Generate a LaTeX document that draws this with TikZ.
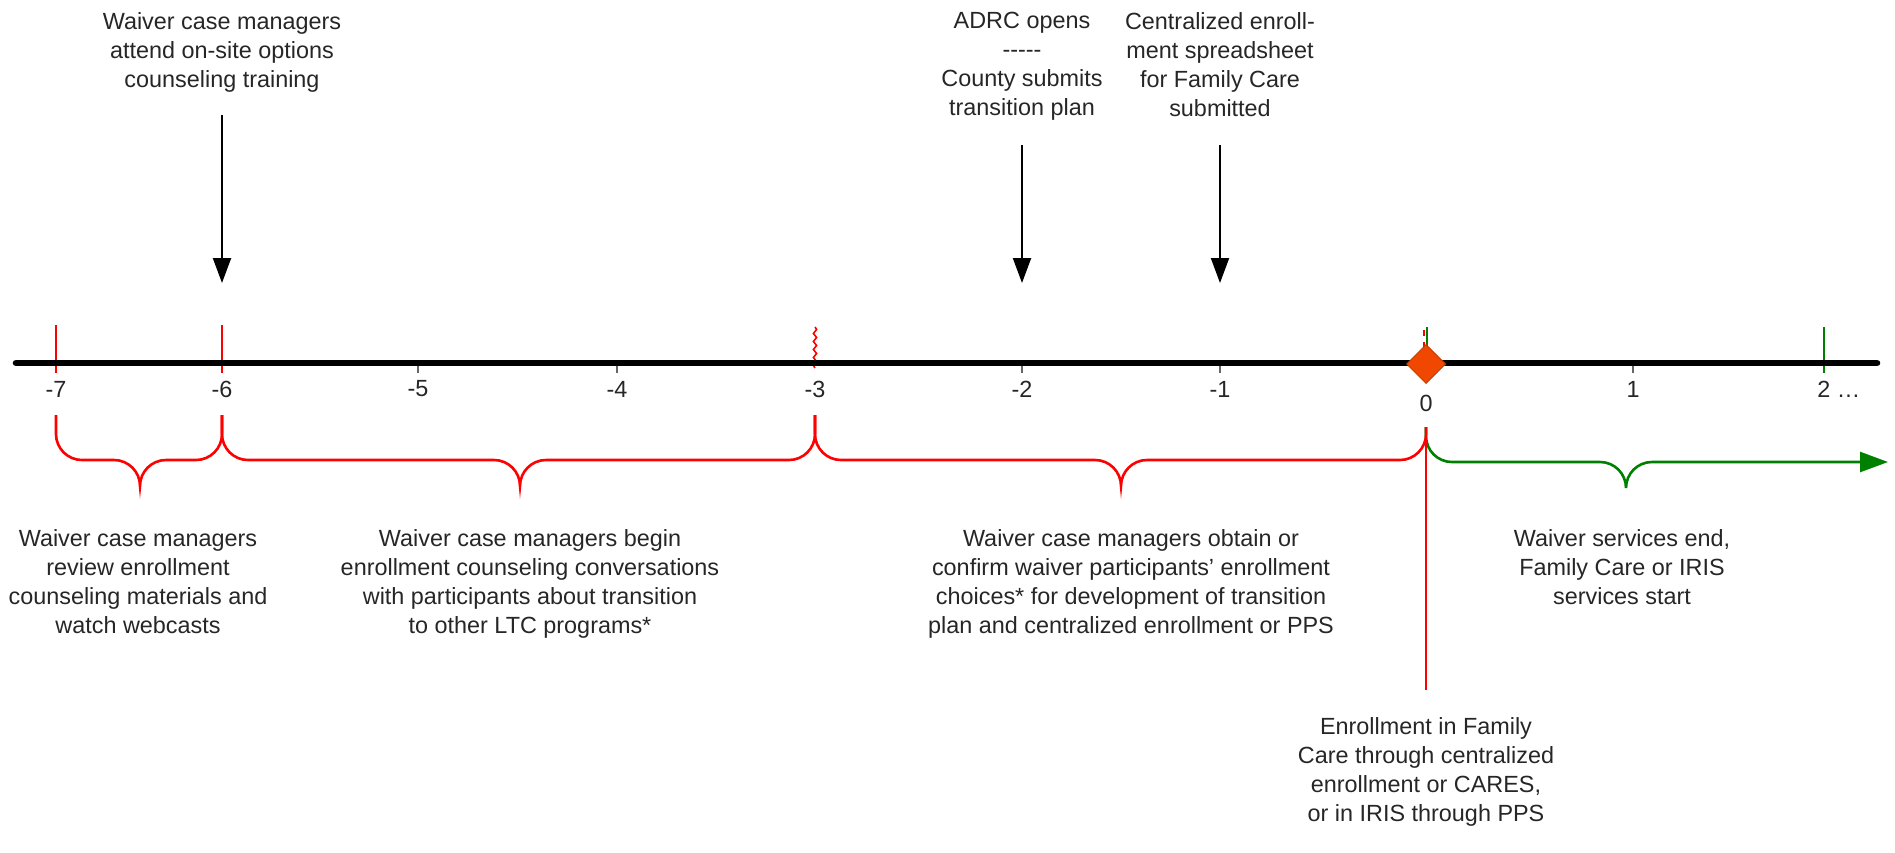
\documentclass[tikz,border=0pt]{standalone}
\usepackage{fontspec}
\setmainfont{Liberation Sans}
\usetikzlibrary{arrows.meta,decorations.pathmorphing,shapes.geometric}
\definecolor{tred}{RGB}{255,0,0}
\definecolor{tgreen}{RGB}{0,128,0}
\definecolor{dmd}{RGB}{240,72,0}
\definecolor{dmdedge}{RGB}{200,60,0}
\definecolor{txt}{RGB}{38,38,38}
\newcommand\tbrace[8]{%
  \draw[#1] (#2,#3) -- (#2,#7-#8) .. controls (#2,#7-0.448*#8) and (#2+0.448*#8,#7) .. (#2+#8,#7)
    -- (#6-#8,#7) .. controls (#6-0.448*#8,#7) and (#6,#7+0.448*#8) .. (#6,#7+#8)
    .. controls (#6,#7+0.448*#8) and (#6+0.448*#8,#7) .. (#6+#8,#7)
    -- (#4-#8,#7) .. controls (#4-0.448*#8,#7) and (#4,#7-0.448*#8) .. (#4,#7-#8) -- (#4,#5);}
\begin{document}
\begin{tikzpicture}[x=0.5pt,y=-0.5pt,
  lbl/.style={font=\fontsize{11.7}{14.5}\selectfont, text=txt, align=center, inner sep=0pt},
  ticklbl/.style={font=\fontsize{11.7}{14}\selectfont, text=txt, inner sep=0pt},
  dnarrow/.style={draw=black, line width=1pt, -{Triangle[length=12.5pt,width=9pt]}},
  redbrace/.style={draw=tred, line width=1.3pt},
  greenbrace/.style={draw=tgreen, line width=1.3pt},
  redtick/.style={draw=tred, line width=1.1pt},
  greentick/.style={draw=tgreen, line width=1.1pt},
  graytick/.style={draw=black!60, line width=1pt}]
\useasboundingbox (0,0) rectangle (1895,852);

% braces
\tbrace{redbrace}{56}{415}{222}{415}{140}{460}{26}
\tbrace{redbrace}{222}{415}{815}{415}{520}{460}{26}
\tbrace{redbrace}{815}{415}{1426}{427}{1121}{460}{26}
\coordinate (gstart) at (1426,427);
\coordinate (gend) at (1888,462);
\draw[greenbrace, -{Triangle[length=14pt,width=10pt]}] (gstart) -- (1426,436)
  .. controls (1426,450.4) and (1437.6,462) .. (1452,462) -- (1600,462)
  .. controls (1614.4,462) and (1626,473.6) .. (1626,488)
  .. controls (1626,473.6) and (1637.6,462) .. (1652,462) -- (gend);

% red line from 0 down
\coordinate (zl1) at (1426,427);
\coordinate (zl2) at (1426,690);
\draw[draw=tred, line width=0.6pt] (zl1) -- (zl2);

% ticks above
\draw[redtick] (56,325) -- (56,373);
\draw[redtick] (222,325) -- (222,373);
\draw[draw=tred, line width=0.8pt, decorate, decoration={snake, amplitude=0.8pt, segment length=4pt}] (815,327) -- (815,368);
\draw[greentick] (1824,327) -- (1824,373);
\draw[greentick] (1427,327) -- (1427,364);
\draw[draw=tred, line width=0.6pt, dashed] (1424,330) -- (1424,348);

% axis
\coordinate (axl) at (16,363);
\coordinate (axr) at (1877,363);
\draw[line width=3.3pt, line cap=round] (axl) -- (axr);
\foreach \x in {418,617,1022,1220,1633} \draw[graytick] (\x,366) -- (\x,373);

% diamond
\node[diamond, fill=dmd, draw=dmdedge, line width=0.5pt, minimum width=19.5pt, minimum height=19.5pt, inner sep=0pt] (d0) at (1426,364) {};

% tick labels
\node[ticklbl] (l7) at (56,389) {-7};
\node[ticklbl] (l6) at (222,389) {-6};
\node[ticklbl] (l5) at (418,389) {-5};
\node[ticklbl] (l4) at (617,389) {-4};
\node[ticklbl] (l3) at (815,389) {-3};
\node[ticklbl] (l2) at (1022,389) {-2};
\node[ticklbl] (l1) at (1220,389) {-1};
\node[ticklbl] (l0) at (1426,403) {0};
\node[ticklbl] (p1) at (1633,389) {1};
\node[ticklbl, anchor=west] (p2) at (1817,389) {2 …};

% top texts and arrows
\node[lbl, anchor=north] (t1) at (222,12) {Waiver case managers\\attend on-site options\\counseling training};
\node[lbl, anchor=north] (t2) at (1022,12) {ADRC opens\\-{}-{}-{}-{}-\\County submits\\transition plan};
\node[lbl, anchor=north] (t3) at (1220,12) {Centralized enroll-\\ment spreadsheet\\for Family Care\\submitted};
\coordinate (a1s) at (222,115); \coordinate (a1e) at (222,283);
\coordinate (a2s) at (1022,145); \coordinate (a2e) at (1022,283);
\coordinate (a3s) at (1220,145); \coordinate (a3e) at (1220,283);
\draw[dnarrow] (a1s) -- (a1e);
\draw[dnarrow] (a2s) -- (a2e);
\draw[dnarrow] (a3s) -- (a3e);

% bottom texts
\node[lbl, anchor=north] (b1) at (138,529) {Waiver case managers\\review enrollment\\counseling materials and\\watch webcasts};
\node[lbl, anchor=north] (b2) at (530,529) {Waiver case managers begin\\enrollment counseling conversations\\with participants about transition\\to other LTC programs*};
\node[lbl, anchor=north] (b3) at (1131,529) {Waiver case managers obtain or\\confirm waiver participants’ enrollment\\choices* for development of transition\\plan and centralized enrollment or PPS};
\node[lbl, anchor=north] (b4) at (1622,529) {Waiver services end,\\Family Care or IRIS\\services start};
\node[lbl, anchor=north] (b5) at (1426,717) {Enrollment in Family\\Care through centralized\\enrollment or CARES,\\or in IRIS through PPS};
\end{tikzpicture}
\end{document}
